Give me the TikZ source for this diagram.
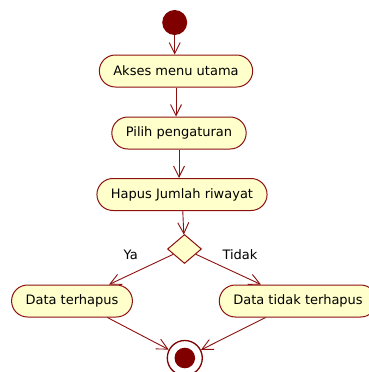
\documentclass[tikz,border=0pt]{standalone}
\usepackage{fontspec}
\setmainfont{DejaVu Sans}
\usetikzlibrary{shapes.geometric,arrows.meta}
\definecolor{umlline}{RGB}{140,16,16}
\definecolor{umldark}{RGB}{128,0,0}
\definecolor{umlfill}{RGB}{255,255,204}
\tikzset{
  act/.style={draw=umlline, fill=umlfill, line width=1pt, rounded corners=16pt,
    minimum height=32pt, inner xsep=14pt, font=\fontsize{13}{15}\selectfont},
  initial/.style={circle, fill=umldark, inner sep=0pt, minimum size=25pt},
  finalring/.style={circle, draw=umldark, line width=1.3pt, fill=white, inner sep=0pt, minimum size=35pt},
  finaldot/.style={circle, fill=umldark, inner sep=0pt, minimum size=20.6pt},
  decision/.style={diamond, draw=umlline, fill=umlfill, line width=1pt, inner sep=0pt,
    minimum width=34pt, minimum height=29pt},
  lbl/.style={font=\fontsize{13}{15}\selectfont},
  flow/.style={draw=umlline, line width=0.9pt, -{Straight Barb[length=11pt,width=11pt]}}
}
\begin{document}
\begin{tikzpicture}[x=1pt, y=-1pt]
  \useasboundingbox (0,0) rectangle (369,372);
  % activities
  \node[initial] (start) at (174.7,22.5) {};
  \node[act] (akses) at (176,71) {Akses menu utama};
  \node[act] (pilih) at (179,133) {Pilih pengaturan};
  \node[act] (hapus) at (182,194.5) {Hapus Jumlah riwayat};
  \node[decision] (dec) at (184.5,249) {};
  \node[act] (terhapus) at (72,301) {Data terhapus};
  \node[act] (tidak) at (298,301) {Data tidak terhapus};
  \node[finalring] (end) at (184.8,358) {};
  \node[finaldot] (enddot) at (end) {};
  % guards
  \node[lbl] (ya) at (130.8,255) {Ya};
  \node[lbl] (tdk) at (240,255) {Tidak};
  % flows
  \draw[flow] (start) -- (start |- akses.north);
  \draw[flow] (akses) -- (akses |- pilih.north);
  \draw[flow] (pilih) -- (pilih |- hapus.north);
  \draw[flow] (hapus) -- (dec);
  \draw[flow] (dec) -- (terhapus.24);
  \draw[flow] (dec) -- (tidak.156);
  \draw[flow] (terhapus.-25) -- (end);
  \draw[flow] (tidak.207) -- (end);
\end{tikzpicture}
\end{document}
